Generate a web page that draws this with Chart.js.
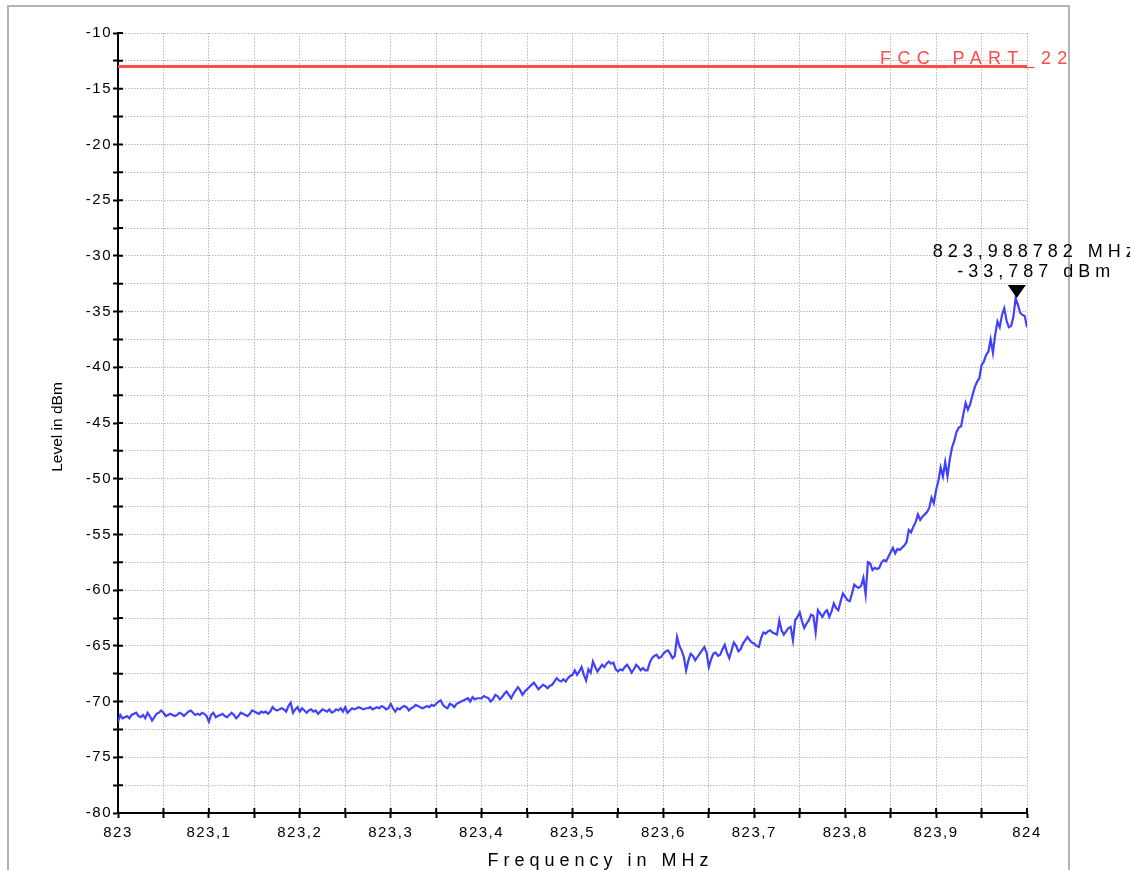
<!DOCTYPE html>
<html>
<head>
<meta charset="utf-8">
<title>Level in dBm / Frequency in MHz</title>
<script src="https://cdn.jsdelivr.net/npm/chart.js@4.4.1/dist/chart.umd.min.js"></script>
<style>
  html, body { margin: 0; padding: 0; background: #fff; }
  canvas { display: block; }
</style>
</head>
<body>
<canvas id="spectrum-chart" width="1130" height="870"></canvas>
<script>
// Balayage de l'analyseur : 401 points entre 823 et 824 MHz
const freqStart = 823;
const freqStop = 824;

// Niveaux mesurés (dBm), une ligne = 0,05 MHz
const traceLevels = [
    -71.8, -71.2, -71.5, -71.4, -71.3, -71.5, -71.2, -71.1, -71.0, -71.3, -71.4, -71.2, -71.5, -71.0, -71.3, -71.7, -71.4, -71.1, -71.0, -70.8,
    -71.0, -71.3, -71.2, -71.1, -71.2, -71.3, -71.2, -71.0, -71.1, -71.3, -71.1, -70.9, -70.8, -71.0, -71.2, -71.1, -71.2, -71.0, -71.1, -71.3,
    -71.8, -71.2, -71.0, -71.4, -71.3, -71.2, -71.1, -71.3, -71.4, -71.2, -71.0, -71.2, -71.5, -71.3, -71.0, -71.1, -71.2, -71.3, -71.1, -70.8,
    -70.9, -71.0, -71.1, -70.9, -71.0, -70.9, -71.1, -70.9, -70.5, -70.7, -70.8, -70.7, -70.6, -70.7, -70.9, -70.4, -70.1, -71.0, -70.7, -70.5,
    -70.9, -70.6, -70.8, -71.0, -70.8, -70.7, -70.9, -70.8, -71.1, -70.9, -70.7, -70.8, -70.9, -70.7, -71.0, -70.9, -70.7, -70.8, -70.6, -70.9,
    -70.5, -71.0, -70.8, -70.6, -70.7, -70.6, -70.5, -70.6, -70.7, -70.6, -70.6, -70.5, -70.7, -70.6, -70.5, -70.6, -70.4, -70.5, -70.7, -70.6,
    -70.2, -70.6, -70.9, -70.6, -70.7, -70.5, -70.4, -70.5, -70.8, -70.6, -70.5, -70.3, -70.4, -70.5, -70.6, -70.5, -70.4, -70.5, -70.3, -70.4,
    -70.2, -70.0, -69.9, -70.3, -70.5, -70.6, -70.2, -70.3, -70.5, -70.2, -70.1, -70.0, -69.9, -69.8, -69.7, -70.0, -69.6, -69.8, -69.7, -69.7,
    -69.7, -69.5, -69.6, -69.7, -70.0, -69.8, -69.4, -69.5, -69.8, -69.6, -69.3, -69.1, -69.4, -69.7, -69.3, -69.0, -68.7, -69.0, -69.4, -69.1,
    -68.9, -68.7, -68.5, -68.3, -68.6, -68.9, -68.7, -68.5, -68.6, -68.8, -68.6, -68.5, -68.2, -67.9, -68.1, -68.2, -68.0, -68.2, -67.9, -67.7,
    -67.6, -67.2, -67.6, -67.3, -66.9, -67.6, -68.1, -67.1, -67.4, -66.4, -66.9, -67.3, -67.0, -66.7, -66.9, -66.6, -66.4, -66.6, -66.5, -67.1,
    -67.3, -67.1, -67.2, -66.9, -66.7, -67.0, -67.4, -67.1, -66.7, -66.9, -67.2, -67.0, -67.2, -67.2, -66.5, -66.1, -65.9, -65.8, -66.1, -66.0,
    -65.7, -65.5, -65.4, -65.7, -66.1, -65.9, -64.2, -65.0, -65.4, -66.0, -67.2, -66.3, -65.7, -65.9, -66.3, -66.0, -65.7, -65.4, -65.1, -65.6,
    -66.9, -66.2, -65.7, -65.6, -65.9, -65.8, -65.3, -64.9, -65.6, -66.1, -65.4, -64.7, -65.0, -65.5, -65.3, -64.8, -64.5, -64.2, -64.5, -64.7,
    -64.8, -65.0, -65.1, -64.3, -63.8, -63.9, -63.7, -63.6, -63.8, -63.9, -64.0, -62.7, -63.6, -64.0, -63.7, -63.4, -63.3, -64.5, -62.7, -62.4,
    -62.0, -62.8, -63.4, -63.0, -62.7, -62.2, -62.3, -63.8, -61.8, -62.1, -62.4, -62.0, -61.8, -62.4, -61.9, -61.2, -61.6, -61.8, -61.0, -60.3,
    -60.6, -60.9, -61.0, -60.3, -59.5, -59.7, -59.8, -59.6, -58.9, -60.4, -57.5, -57.6, -58.2, -58.0, -58.1, -58.0, -57.5, -57.3, -57.4, -57.0,
    -56.6, -56.2, -56.7, -56.3, -56.4, -56.2, -56.0, -55.7, -54.6, -54.8, -54.3, -53.9, -53.2, -53.7, -53.4, -53.2, -53.0, -52.6, -51.7, -52.2,
    -51.0, -50.2, -49.0, -49.8, -48.5, -49.8, -48.3, -47.2, -46.6, -45.8, -45.4, -45.3, -44.2, -43.2, -43.8, -43.3, -42.5, -41.8, -41.3, -41.0,
    -39.8, -39.5, -38.9, -38.6, -37.5, -38.7, -37.1, -35.9, -36.4, -35.3, -34.7, -35.8, -36.4, -36.3, -35.5, -33.787, -34.4, -35.1, -35.3, -35.4,
    -36.4
];

// Ligne limite
const limitLevel = -13;
const limitName = 'FCC_PART_22';

// Marqueur de crête
const markerFreq = 823.988782;
const markerLevel = -33.787;
const markerLines = ['823,988782 MHz', '-33,787 dBm'];

// Axes
const yTickLabels = [-80, -75, -70, -65, -60, -55, -50, -45, -40, -35, -30, -25, -20, -15, -10];
const yStep = 2.5;
const xTickLabels = ['823', '823,1', '823,2', '823,3', '823,4', '823,5', '823,6', '823,7', '823,8', '823,9', '824'];
const xStep = 0.05;
const xTitle = 'Frequency in MHz';
const yTitle = 'Level in dBm';

// Texte espacé (lettres écartées comme sur l'analyseur)
function spacedText(ctx, text, x, y, spacing, align) {
    ctx.letterSpacing = spacing + 'px';
    const w = ctx.measureText(text).width - spacing;
    let x0 = x;
    if (align === 'center') x0 = x - w / 2;
    if (align === 'right') x0 = x - w;
    ctx.textAlign = 'left';
    ctx.fillText(text, x0, y);
    ctx.letterSpacing = '0px';
}

// Étiquettes de fréquence avec virgule décimale
function freqLabel(value) {
    const c = Math.round(value * 100);
    if (c % 10 !== 0) return '';
    const txt = (c / 100).toFixed(c % 100 === 0 ? 0 : 1).replace('.', ',');
    return xTickLabels.includes(txt) ? txt : '';
}

function levelLabel(value) {
    const v = Math.round(value * 10) / 10;
    return yTickLabels.includes(v) ? String(v) : '';
}

// Cadre, petits traits intérieurs, marqueur et légendes
const habillage = {
    id: 'habillage',
    beforeDraw(chart) {
        const ctx = chart.ctx;
        ctx.save();
        ctx.strokeStyle = '#b4b4b4';
        ctx.lineWidth = 2;
        ctx.strokeRect(8, 6, 1061, 900);
        ctx.restore();
        ctx.letterSpacing = '1.5px'; // graduations légèrement espacées
    },
    afterDraw(chart) {
        const ctx = chart.ctx;
        const area = chart.chartArea;
        const xScale = chart.scales.x;
        const yScale = chart.scales.y;
        ctx.save();
        ctx.letterSpacing = '0px';

        // traits de graduation qui traversent l'axe
        ctx.strokeStyle = '#000';
        ctx.lineWidth = 2;
        ctx.beginPath();
        yScale.ticks.forEach(t => {
            const y = yScale.getPixelForValue(t.value);
            ctx.moveTo(area.left, y);
            ctx.lineTo(area.left + 5, y);
        });
        xScale.ticks.forEach(t => {
            const x = xScale.getPixelForValue(t.value);
            ctx.moveTo(x, area.bottom);
            ctx.lineTo(x, area.bottom - 5);
        });
        ctx.stroke();

        // nom de la limite
        ctx.fillStyle = '#ff4a4a';
        ctx.font = '18px "Liberation Sans", Arial, sans-serif';
        ctx.textBaseline = 'alphabetic';
        const ly = yScale.getPixelForValue(limitLevel);
        spacedText(ctx, limitName, area.right - 147, ly - 2.5, 6.4, 'left');

        // marqueur triangle, pointe sur la crête
        const mx = xScale.getPixelForValue(markerFreq);
        const my = yScale.getPixelForValue(markerLevel);
        ctx.fillStyle = '#000';
        ctx.beginPath();
        ctx.moveTo(mx, my);
        ctx.lineTo(mx - 9, my - 13);
        ctx.lineTo(mx + 9, my - 13);
        ctx.closePath();
        ctx.fill();
        spacedText(ctx, markerLines[0], mx + 17, my - 41, 5, 'center');
        spacedText(ctx, markerLines[1], mx + 17, my - 21, 5, 'center');

        // titres des axes
        spacedText(ctx, xTitle, 598, 866, 5, 'center');
        ctx.font = '15.5px "Liberation Sans", Arial, sans-serif';
        ctx.translate(58, 427);
        ctx.rotate(-Math.PI / 2);
        ctx.textAlign = 'center';
        ctx.textBaseline = 'middle';
        ctx.fillText(yTitle, 0, 0);
        ctx.restore();
    }
};

function createSpectrumChart() {
    const step = (freqStop - freqStart) / (traceLevels.length - 1);
    const tracePoints = traceLevels.map((level, i) => ({ x: freqStart + i * step, y: level }));
    const limitPoints = [{ x: freqStart, y: limitLevel }, { x: freqStop, y: limitLevel }];

    Chart.defaults.font.family = '"Liberation Sans", Arial, sans-serif';
    Chart.defaults.font.size = 15;
    Chart.defaults.color = '#000';

    const ctx = document.getElementById('spectrum-chart').getContext('2d');
    const spectrumChart = new Chart(ctx, {
        type: 'line',
        data: {
            datasets: [{
                data: tracePoints,
                borderColor: '#4040ff',
                borderWidth: 2.2,
                pointRadius: 0,
                tension: 0
            }, {
                data: limitPoints,
                borderColor: '#ff4a4a',
                borderWidth: 3,
                pointRadius: 0
            }]
        },
        options: {
            responsive: false,
            animation: false,
            events: [],
            layout: { padding: { left: 0, top: 33, right: 103, bottom: 0 } },
            plugins: {
                legend: { display: false },
                tooltip: { enabled: false }
            },
            scales: {
                x: {
                    type: 'linear',
                    min: freqStart,
                    max: freqStop,
                    afterFit: scale => { scale.height = 57; },
                    ticks: {
                        stepSize: xStep,
                        autoSkip: false,
                        maxRotation: 0,
                        padding: 6,
                        callback: freqLabel
                    },
                    grid: {
                        color: '#b8b8b8',
                        lineWidth: 1,
                        tickLength: 5,
                        tickColor: '#000',
                        tickWidth: 2,
                        tickBorderDash: []
                    },
                    border: { color: '#000', width: 2, dash: [1.5, 1.5] }
                },
                y: {
                    min: yTickLabels[0],
                    max: yTickLabels[yTickLabels.length - 1],
                    afterFit: scale => { scale.width = 118; },
                    ticks: {
                        stepSize: yStep,
                        autoSkip: false,
                        padding: 1,
                        callback: levelLabel
                    },
                    grid: {
                        color: '#b8b8b8',
                        lineWidth: 1,
                        tickLength: 5,
                        tickColor: '#000',
                        tickWidth: 2,
                        tickBorderDash: []
                    },
                    border: { color: '#000', width: 2, dash: [1.5, 1.5] }
                }
            }
        },
        plugins: [habillage]
    });
    return spectrumChart;
}

createSpectrumChart();
</script>
</body>
</html>
